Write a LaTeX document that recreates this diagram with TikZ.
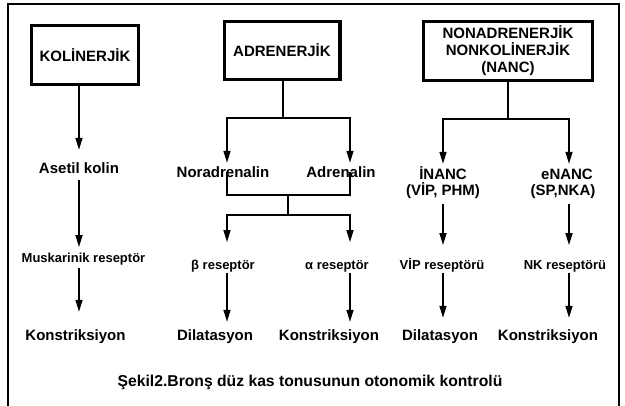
\documentclass[tikz,border=0pt]{standalone}
\usepackage{fontspec}
\setmainfont{Liberation Sans}
\usetikzlibrary{arrows.meta}
\begin{document}
\begin{tikzpicture}[x=1pt,y=-1pt,
  lbl/.style={font=\bfseries\fontsize{15}{17}\selectfont, inner sep=0pt, text height=11pt, text depth=0pt},
  rec/.style={font=\bfseries\fontsize{13}{15}\selectfont, inner sep=0pt, text height=9.5pt, text depth=0pt},
  head/.style={draw, line width=3.2pt, font=\bfseries\fontsize{15}{17}\selectfont, align=center, inner sep=0pt},
  conn/.style={line width=1.6pt},
  arr/.style={conn, -{Triangle[length=12pt,width=7pt]}},
]
\useasboundingbox (0,0) rectangle (625,406);
% outer frame, running off the bottom edge
\begin{scope}
  \clip (0,0) rectangle (625,406);
  \draw[line width=1.4pt] (8,4) rectangle (619,430);
\end{scope}

% top-level boxes
\node[head, minimum width=106.8, minimum height=58.8] (kol) at (85,55) {KOLİNERJİK};
\node[head, minimum width=115.8, minimum height=57.8] (adr) at (282,50.5) {ADRENERJİK};
\node[head, minimum width=168.8, minimum height=58.8] (nanc) at (508,51)
  {NONADRENERJİK\\NONKOLİNERJİK\\(NANC)};

% cholinergic column
\node[lbl] (asetil) at (79,168) {Asetil kolin};
\node[rec] (musk) at (83.5,258) {Muskarinik reseptör};
\node[lbl] (kon1) at (75.5,335) {Konstriksiyon};

% adrenergic column
\node[lbl] (nor) at (223,172) {Noradrenalin};
\node[lbl] (adrl) at (341,172) {Adrenalin};
\node[rec] (beta) at (223,265) {β reseptör};
\node[rec] (alpha) at (337,265) {α reseptör};
\node[lbl] (dil1) at (215,335) {Dilatasyon};
\node[lbl] (kon2) at (329,335) {Konstriksiyon};

% NANC column
\node[lbl] (inanc) at (443,174) {İNANC};
\node[lbl] (inancb) at (443,190) {(VİP, PHM)};
\node[lbl] (enanc) at (567,174) {eNANC};
\node[lbl] (enancb) at (563,190) {(SP,NKA)};
\node[rec] (vip) at (442,265) {VİP reseptörü};
\node[rec] (nk) at (565,265) {NK reseptörü};
\node[lbl] (dil2) at (440,335) {Dilatasyon};
\node[lbl] (kon3) at (548,335) {Konstriksiyon};

% caption
\node[font=\bfseries\fontsize{15.7}{18}\selectfont, inner sep=0pt] (cap) at (310,382)
  {Şekil2.Bronş düz kas tonusunun otonomik kontrolü};

% branch points
\coordinate (c1) at (79,100);
\coordinate (j1) at (283,118);
\coordinate (j1l) at (227,118);
\coordinate (j1r) at (350,118);
\coordinate (j2l) at (227,195);
\coordinate (j2r) at (350,195);
\coordinate (j2) at (288,195);
\coordinate (j3) at (288,215);
\coordinate (j3l) at (227,215);
\coordinate (j3r) at (350,215);
\coordinate (j4) at (508,119);
\coordinate (j4l) at (443,119);
\coordinate (j4r) at (569,119);

% cholinergic arrows
\draw[arr, shorten >=12.5pt] (c1 |- kol.south) -- (c1 |- asetil.north);
\draw[arr, shorten <=6.5pt, shorten >=6pt] (c1 |- asetil.south) -- (c1 |- musk.north);
\draw[arr, shorten <=5pt, shorten >=17.5pt] (c1 |- musk.south) -- (c1 |- kon1.north);

% adrenergic arrows
\draw[conn] (adr.south -| j1) -- (j1);
\draw[arr, shorten >=3.5pt] (j1) -- (j1l) -- (j1l |- nor.north);
\draw[arr, shorten >=3.5pt] (j1) -- (j1r) -- (j1r |- adrl.north);
\draw[conn] (j1l |- nor) -- (j2l) -- (j2r) -- (j1r |- adrl);
\draw[conn] (j2) -- (j3);
\draw[arr, shorten >=18pt] (j3) -- (j3l) -- (j3l |- beta.north);
\draw[arr, shorten >=18pt] (j3) -- (j3r) -- (j3r |- alpha.north);
\draw[arr, shorten <=3pt, shorten >=7.5pt] (j3l |- beta.south) -- (j3l |- dil1.north);
\draw[arr, shorten <=3pt, shorten >=7.5pt] (j3r |- alpha.south) -- (j3r |- kon2.north);

% NANC arrows
\draw[conn] (nanc.south -| j4) -- (j4);
\draw[arr, shorten >=4.5pt] (j4) -- (j4l) -- (j4l |- inanc.north);
\draw[arr, shorten >=4.5pt] (j4) -- (j4r) -- (j4r |- enanc.north);
\draw[arr, shorten <=8pt, shorten >=15pt] (j4l |- inancb.south) -- (j4l |- vip.north);
\draw[arr, shorten <=8pt, shorten >=15pt] (j4r |- enancb.south) -- (j4r |- nk.north);
\draw[arr, shorten <=3pt, shorten >=11.5pt] (j4l |- vip.south) -- (j4l |- dil2.north);
\draw[arr, shorten <=3pt, shorten >=11.5pt] (j4r |- nk.south) -- (j4r |- kon3.north);
\end{tikzpicture}
\end{document}
